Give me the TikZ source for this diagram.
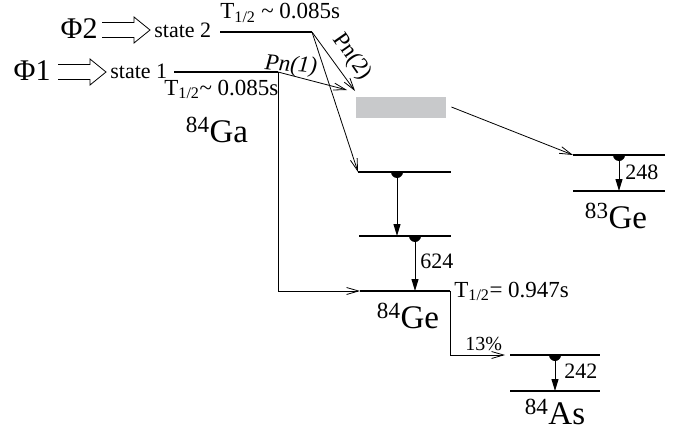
\documentclass[tikz,border=0pt]{standalone}
\usepackage{fontspec}
\setmainfont{Liberation Serif}
\usetikzlibrary{calc,arrows.meta}
\definecolor{boxgray}{RGB}{200,201,203}

\begin{document}
\begin{tikzpicture}[x=1pt, y=-1pt, line width=0.8pt,
	lvl/.style={line width=1.3pt},
	feed/.style={-{Straight Barb[length=12pt,width=7pt]}},
	gam/.style={-{Triangle[length=12pt,width=7pt]}, line width=1pt},
	sm/.style={font=\fontsize{23}{25}\selectfont, inner sep=0pt},
	md/.style={font=\fontsize{22}{24}\selectfont, inner sep=0pt},
	bg/.style={font=\fontsize{33}{36}\selectfont, inner sep=0pt},
	pics/hollow/.style={code={\draw (0,-7.5) -- (32,-7.5) -- (32,-13) -- (48,0) -- (32,13) -- (32,7.5) -- (0,7.5);}},
	pics/hdisc/.style={code={\fill (-6,0) arc (180:0:6) -- cycle;}}]
	\useasboundingbox (0,0) rectangle (675,431);
	% levels
	\coordinate (s2L) at (220,32);  \coordinate (s2R) at (312,32);
	\coordinate (s1L) at (174,72);  \coordinate (s1R) at (278,72);
	\coordinate (aL) at (358,172);  \coordinate (aR) at (451,172);
	\coordinate (bL) at (359,236);  \coordinate (bR) at (451,236);
	\coordinate (geL) at (360,291); \coordinate (geR) at (450,291);
	\coordinate (uL) at (573,155);  \coordinate (uR) at (665,155);
	\coordinate (dL) at (573,191);  \coordinate (dR) at (665,191);
	\coordinate (asL) at (510,355); \coordinate (asR) at (600,355);
	\coordinate (gsL) at (510,391); \coordinate (gsR) at (600,391);
	\foreach \a/\b in {s2L/s2R, s1L/s1R, aL/aR, bL/bR, geL/geR, uL/uR, dL/dR, asL/asR, gsL/gsR}
		\draw[lvl] (\a) -- (\b);
	\node[fill=boxgray, minimum width=90pt, minimum height=21pt, inner sep=0pt] (gbox) at (401,107) {};
	% beams
	\node[font=\fontsize{30}{32}\selectfont, inner sep=0pt, anchor=base east] (phi2) at (98,38) {Φ2};
	\node[font=\fontsize{30}{32}\selectfont, inner sep=0pt, anchor=base east] (phi1) at (51,80) {Φ1};
	\pic at (102,30) {hollow};
	\pic at (58,72) {hollow};
	\node[md, anchor=base west] (st2) at (154,37) {state 2};
	\node[md, anchor=base west] (st1) at (110,78) {state 1};
	\node[sm, anchor=base west] (t2) at (220,19) {T\textsubscript{1/2} \textasciitilde\ 0.085s};
	\node[sm, anchor=base west] (t1) at (164,95) {T\textsubscript{1/2}\textasciitilde\ 0.085s};
	\node[bg, anchor=base] (ga) at (217,142) {\textsuperscript{84}Ga};
	% delayed neutrons
	\coordinate (p1) at (347,90);
	\coordinate (p2) at (355,91);
	\draw[feed] (s1R) -- (p1);
	\draw[feed] (s2R) -- (p2);
	\draw[feed] (s2R) -- (aL);
	\node[font=\itshape\fontsize{23}{25}\selectfont, inner sep=0pt, anchor=base west, rotate=-5] (pn1) at (264,69) {Pn(1)};
	\node[font=\fontsize{23}{25}\selectfont, inner sep=0pt, rotate=-55] (pn2) at (352,57) {Pn(2)};
	\draw[feed] (gbox.east) ++(5,0) coordinate (gx) (gx) -- (uL);
	\draw[feed] (s1R) |- (geL);
	\draw[feed] (geR) |- ($(asL)+(-5,0)$);
	% gammas
	\foreach \x/\y/\z in {397/172/236, 415/236/291, 619/155/191, 555/355/391} {
		\pic at (\x,\y) {hdisc};
		\draw[gam] (\x,\y) -- (\x,\z);
	}
	\node[md, anchor=base west] (e248) at (625,179) {248};
	\node[md, anchor=base west] (e624) at (420,268) {624};
	\node[md, anchor=base west] (e242) at (564,378) {242};
	\node[bg, anchor=base] (ge83) at (616,228) {\textsuperscript{83}Ge};
	\node[bg, anchor=base] (ge84) at (408,328) {\textsuperscript{84}Ge};
	\node[bg, anchor=base] (as84) at (555,424) {\textsuperscript{84}As};
	\node[sm, anchor=base west] (t3) at (454,297) {T\textsubscript{1/2}= 0.947s};
	\node[font=\fontsize{20}{22}\selectfont, inner sep=0pt, anchor=base west] (br) at (465,350) {13\%};
\end{tikzpicture}
\end{document}
